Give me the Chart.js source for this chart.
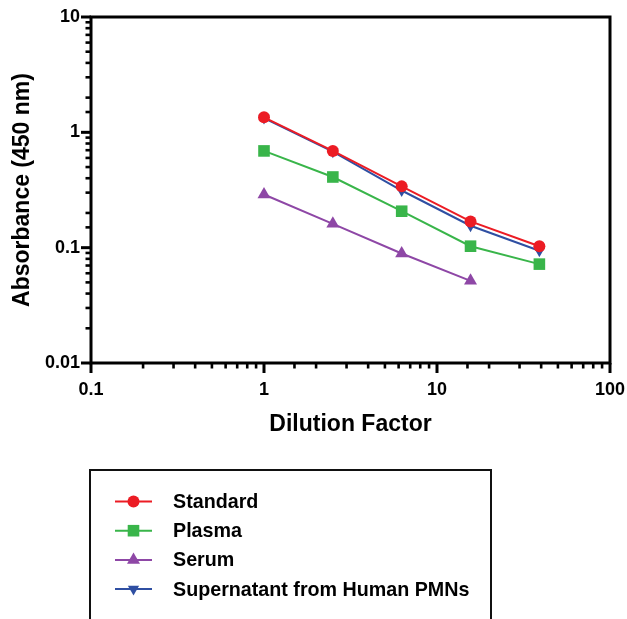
<!DOCTYPE html>
<html>
<head>
<meta charset="utf-8">
<title>Absorbance vs Dilution Factor</title>
<script src="https://cdn.jsdelivr.net/npm/chart.js@4/dist/chart.umd.min.js"></script>
<style>
  html, body { margin: 0; padding: 0; background: #fff; }
  #wrap { width: 627px; height: 619px; position: relative; }
</style>
</head>
<body>
<div id="wrap"><canvas id="dilutionChart" width="627" height="619"></canvas></div>
<script>
// ===========================
// DATA
// ===========================
const dilutions = [1, 2.5, 6.25, 15.625, 39.0625];
const standardValues = [1.35, 0.69, 0.34, 0.169, 0.103];
const plasmaValues = [0.69, 0.41, 0.207, 0.103, 0.072];
const serumValues = [0.289, 0.161, 0.089, 0.0516];
const supernatantValues = [1.33, 0.68, 0.313, 0.155, 0.094];

const seriesLabels = ["Standard", "Plasma", "Serum", "Supernatant from Human PMNs"];
const xTickLabels = [0.1, 1, 10, 100];
const yTickLabels = [0.01, 0.1, 1, 10];

// ===========================
// STYLE
// ===========================
const FONT = "'Liberation Sans', Arial, Helvetica, sans-serif";
const COLORS = {
  standard: "#ec1c24",
  plasma: "#39b54a",
  serum: "#8e47a6",
  supernatant: "#2f4fa2"
};

/**
 * Pair each dilution with its reading
 */
function toPoints(values) {
  return values.map((v, i) => ({ x: dilutions[i], y: v }));
}

function isDecade(v) {
  const l = Math.log10(v);
  return Math.abs(l - Math.round(l)) < 1e-9;
}

/**
 * Draw a marker in the same shape the dataset uses
 */
function drawMarker(ctx, style, radius, rotation, x, y, color) {
  ctx.save();
  ctx.fillStyle = color;
  ctx.beginPath();
  if (style === "circle") {
    ctx.arc(x, y, radius, 0, Math.PI * 2);
  } else if (style === "rect") {
    const s = Math.SQRT1_2 * radius;
    ctx.rect(x - s, y - s, 2 * s, 2 * s);
  } else if (style === "triangle") {
    let rad = (rotation || 0) * Math.PI / 180;
    ctx.moveTo(x + Math.sin(rad) * radius, y - Math.cos(rad) * radius);
    rad += 2 * Math.PI / 3;
    ctx.lineTo(x + Math.sin(rad) * radius, y - Math.cos(rad) * radius);
    rad += 2 * Math.PI / 3;
    ctx.lineTo(x + Math.sin(rad) * radius, y - Math.cos(rad) * radius);
    ctx.closePath();
  }
  ctx.fill();
  ctx.restore();
}

// ===========================
// PLUGINS
// ===========================

/**
 * Box frame plus outward tick marks (long at decades, short between)
 */
const frameTicks = {
  id: "frameTicks",
  afterDraw(chart) {
    const { ctx, chartArea: a, scales } = chart;
    ctx.save();
    ctx.strokeStyle = "#000";
    ctx.lineCap = "butt";

    scales.x.ticks.forEach(t => {
      const px = scales.x.getPixelForValue(t.value);
      const major = isDecade(t.value);
      ctx.lineWidth = major ? 3 : 2.6;
      ctx.beginPath();
      ctx.moveTo(px, a.bottom);
      ctx.lineTo(px, a.bottom + (major ? 10 : 5.5));
      ctx.stroke();
    });

    scales.y.ticks.forEach(t => {
      const py = scales.y.getPixelForValue(t.value);
      const major = isDecade(t.value);
      ctx.lineWidth = major ? 3 : 2.6;
      ctx.beginPath();
      ctx.moveTo(a.left, py);
      ctx.lineTo(a.left - (major ? 10 : 5.5), py);
      ctx.stroke();
    });

    ctx.lineWidth = 3;
    ctx.strokeRect(a.left, a.top, a.right - a.left, a.bottom - a.top);
    ctx.restore();
  }
};

/**
 * Boxed legend under the plot, built from the datasets
 */
const boxLegend = {
  id: "boxLegend",
  afterDraw(chart) {
    const { ctx } = chart;
    ctx.save();
    ctx.strokeStyle = "#111";
    ctx.lineWidth = 2;
    ctx.strokeRect(90, 470, 401, 200);

    chart.data.datasets.forEach((ds, i) => {
      const y = 501.5 + i * 29.2;
      ctx.strokeStyle = ds.borderColor;
      ctx.lineWidth = 2;
      ctx.beginPath();
      ctx.moveTo(115, y);
      ctx.lineTo(152, y);
      ctx.stroke();
      drawMarker(ctx, ds.pointStyle, ds.pointRadius, ds.pointRotation, 133.5, y, ds.pointBackgroundColor);

      ctx.fillStyle = "#000";
      ctx.font = "bold 19.7px " + FONT;
      ctx.textAlign = "left";
      ctx.textBaseline = "middle";
      ctx.fillText(ds.label, 173, y + 1);
    });
    ctx.restore();
  }
};

// ===========================
// CHART
// ===========================
function initializeChart() {
  const ctx = document.getElementById("dilutionChart");

  const makeSet = (label, values, color, style, radius, rotation) => ({
    label: label,
    data: toPoints(values),
    borderColor: color,
    backgroundColor: color,
    pointBackgroundColor: color,
    pointBorderColor: color,
    pointBorderWidth: 0,
    borderWidth: 2,
    pointStyle: style,
    pointRadius: radius,
    pointHoverRadius: radius,
    pointRotation: rotation,
    tension: 0
  });

  new Chart(ctx, {
    type: "line",
    data: {
      datasets: [
        makeSet(seriesLabels[0], standardValues, COLORS.standard, "circle", 6, 0),
        makeSet(seriesLabels[1], plasmaValues, COLORS.plasma, "rect", 8.2, 0),
        makeSet(seriesLabels[2], serumValues, COLORS.serum, "triangle", 7.5, 0),
        makeSet(seriesLabels[3], supernatantValues, COLORS.supernatant, "triangle", 6.5, 180)
      ]
    },
    options: {
      responsive: false,
      animation: false,
      layout: { padding: { top: 17, right: 17, left: 0, bottom: 0 } },
      plugins: {
        legend: { display: false },
        tooltip: { enabled: false }
      },
      scales: {
        x: {
          type: "logarithmic",
          min: 0.1,
          max: 100,
          grid: { display: false, drawTicks: false },
          border: { display: false },
          ticks: {
            autoSkip: false,
            maxRotation: 0,
            padding: 16,
            color: "#000",
            font: { family: FONT, size: 18, weight: "bold" },
            callback: v => xTickLabels.some(t => Math.abs(t - v) < 1e-9) ? String(v) : ""
          },
          title: {
            display: true,
            text: "Dilution Factor",
            color: "#000",
            font: { family: FONT, size: 23, weight: "bold" },
            padding: { top: 0, bottom: 181 }
          },
          afterFit: scale => {
            scale.height = 256;
            scale.paddingLeft = 0;
            scale.paddingRight = 0;
          }
        },
        y: {
          type: "logarithmic",
          min: 0.01,
          max: 10,
          grid: { display: false, drawTicks: false },
          border: { display: false },
          ticks: {
            autoSkip: false,
            padding: 11,
            color: "#000",
            font: { family: FONT, size: 18, weight: "bold" },
            callback: v => yTickLabels.some(t => Math.abs(t - v) < 1e-12) ? String(v) : ""
          },
          title: {
            display: true,
            text: "Absorbance (450 nm)",
            color: "#000",
            font: { family: FONT, size: 23, weight: "bold" },
            padding: { top: 9, bottom: 0 }
          },
          afterFit: scale => {
            scale.width = 91;
            scale.paddingTop = 0;
            scale.paddingBottom = 0;
          }
        }
      }
    },
    plugins: [frameTicks, boxLegend]
  });
}

document.addEventListener("DOMContentLoaded", initializeChart);
</script>
</body>
</html>
